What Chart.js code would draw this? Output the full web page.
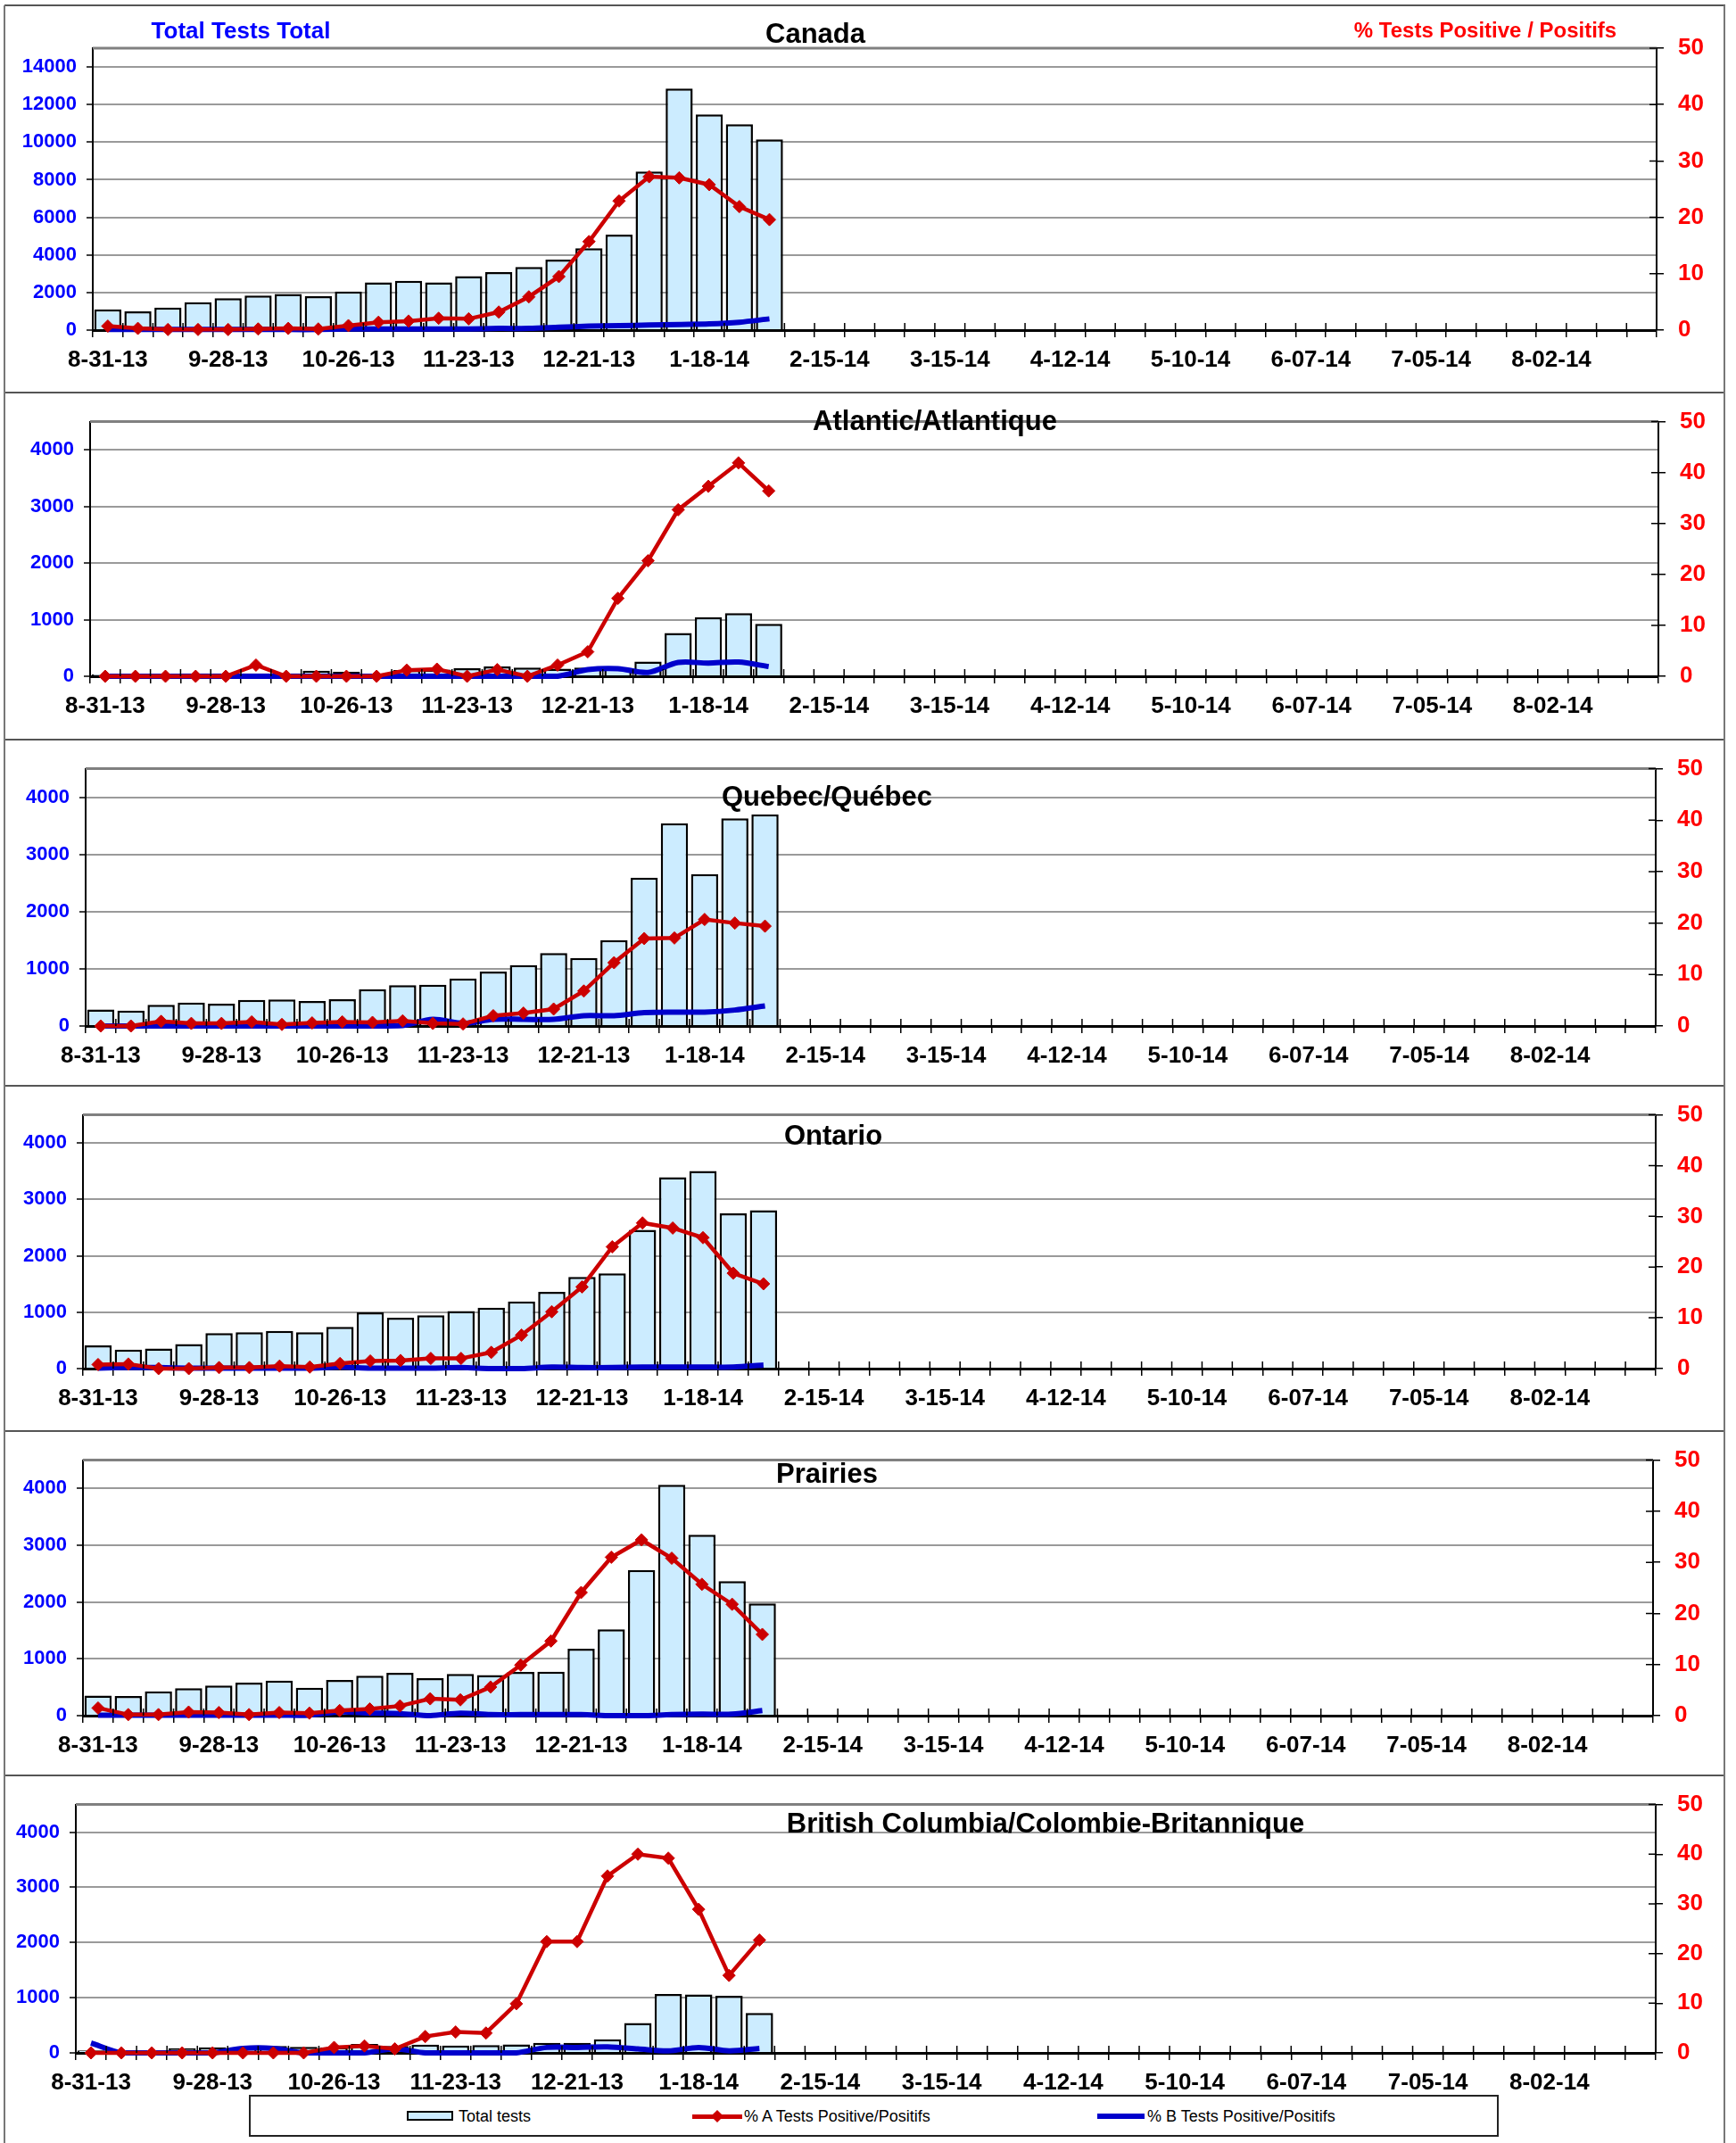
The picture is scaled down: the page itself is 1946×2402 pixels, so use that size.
<!DOCTYPE html>
<html>
<head>
<meta charset="utf-8">
<script src="https://cdn.jsdelivr.net/npm/chart.js@4.4.0/dist/chart.umd.min.js"></script>
<style>
  body { margin: 0; background: #fff; }
  #page { position: relative; width: 1946px; height: 2402px; overflow: hidden; font-family: 'Liberation Sans', Arial, sans-serif; }
  #page canvas { position: absolute; left: 0; }
  .hline { position: absolute; left: 5px; width: 1929px; height: 2px; background: #555; }
  .vline { position: absolute; top: 6px; width: 2px; height: 2396px; background: #777; }
  .leg { position: absolute; font-size: 18px; line-height: 20px; color: #000; white-space: nowrap; }
</style>
</head>
<body>
<div id="page">
  <canvas id="c0"></canvas>
  <canvas id="c1"></canvas>
  <canvas id="c2"></canvas>
  <canvas id="c3"></canvas>
  <canvas id="c4"></canvas>
  <canvas id="c5"></canvas>

  <div class="hline" style="top:5px"></div>
  <div class="hline" style="top:439px"></div>
  <div class="hline" style="top:828px"></div>
  <div class="hline" style="top:1216px"></div>
  <div class="hline" style="top:1603px"></div>
  <div class="hline" style="top:1989px"></div>
  <div class="vline" style="left:4px"></div>
  <div class="vline" style="left:1932px"></div>

  <!-- legend -->
  <div style="position:absolute;left:279px;top:2348px;width:1401px;height:47px;border:2px solid #222;box-sizing:border-box;background:#fff;"></div>
  <div style="position:absolute;left:456px;top:2366px;width:52px;height:11px;background:#CCECFF;border:2px solid #000;box-sizing:border-box;"></div>
  <div class="leg" style="left:514px;top:2362px;">Total tests</div>
  <div style="position:absolute;left:776px;top:2370px;width:56px;height:5px;background:#CC0000;"></div>
  <div style="position:absolute;left:799px;top:2367px;width:10px;height:10px;background:#CC0000;transform:rotate(45deg);"></div>
  <div class="leg" style="left:834px;top:2362px;">% A Tests Positive/Positifs</div>
  <div style="position:absolute;left:1230px;top:2369px;width:53px;height:6px;background:#0000CC;"></div>
  <div class="leg" style="left:1286px;top:2362px;">% B Tests Positive/Positifs</div>
</div>

<script>
// Weekly categories (52 weeks)
const categories = [
  '8-31-13', '9-07-13', '9-14-13', '9-21-13', '9-28-13', '10-05-13', '10-12-13', '10-19-13',
  '10-26-13', '11-02-13', '11-09-13', '11-16-13', '11-23-13', '11-30-13', '12-07-13', '12-14-13',
  '12-21-13', '12-28-13', '1-04-14', '1-11-14', '1-18-14', '1-25-14', '2-01-14', '2-08-14',
  '2-15-14', '2-22-14', '3-01-14', '3-08-14', '3-15-14', '3-22-14', '3-29-14', '4-05-14',
  '4-12-14', '4-19-14', '4-26-14', '5-03-14', '5-10-14', '5-17-14', '5-24-14', '5-31-14',
  '6-07-14', '6-14-14', '6-21-14', '6-28-14', '7-05-14', '7-12-14', '7-19-14', '7-26-14',
  '8-02-14', '8-09-14', '8-16-14', '8-23-14'
];

// Canada
const canadaTotal = [1100, 1000, 1200, 1480, 1700, 1840, 1920, 1800, 2050, 2540, 2620, 2540, 2870, 3090, 3360, 3750, 4350, 5080, 8440, 12850, 11470, 10950, 10150];
const canadaPctA = [0.7, 0.3, 0.1, 0.1, 0.1, 0.2, 0.3, 0.2, 0.8, 1.4, 1.6, 2.1, 2.0, 3.2, 5.9, 9.5, 15.7, 22.9, 27.2, 27.0, 25.8, 21.9, 19.6];
const canadaPctB = [0.1, 0.1, 0.1, 0.1, 0.1, 0.1, 0.1, 0.1, 0.2, 0.2, 0.2, 0.2, 0.2, 0.3, 0.3, 0.5, 0.7, 0.8, 0.9, 1.0, 1.1, 1.4, 2.0];

// Atlantic
const atlanticTotal = [30, 30, 30, 50, 50, 50, 50, 100, 80, 40, 110, 120, 140, 175, 155, 135, 155, 145, 260, 765, 1045, 1115, 925];
const atlanticPctA = [0, 0, 0, 0, 0, 2.2, 0, 0, 0, 0, 1.2, 1.4, 0, 1.3, 0, 2.2, 4.8, 15.3, 22.7, 32.7, 37.3, 41.9, 36.4];
const atlanticPctB = [0, 0, 0, 0, 0, 0, 0, 0, 0, 0, 0, 0, 0, 0, 0, 0, 1.3, 1.5, 0.75, 2.7, 2.6, 2.8, 1.9];

// Quebec
const quebecTotal = [290, 270, 370, 410, 390, 455, 465, 435, 470, 645, 715, 720, 830, 950, 1065, 1275, 1190, 1500, 2595, 3545, 2655, 3630, 3700];
const quebecPctA = [0, 0, 0.9, 0.5, 0.5, 0.8, 0.3, 0.6, 0.8, 0.7, 1.0, 0.5, 0.4, 2.0, 2.5, 3.3, 6.8, 12.3, 17.0, 17.1, 20.7, 20.0, 19.4];
const quebecPctB = [0, 0, 0, 0, 0, 0, 0, 0, 0, 0, 0.1, 1.3, 0.5, 1.3, 1.3, 1.3, 2.0, 2.0, 2.6, 2.7, 2.7, 3.1, 3.9];

// Ontario
const ontarioTotal = [410, 335, 355, 435, 630, 645, 670, 645, 740, 995, 900, 945, 1020, 1080, 1190, 1360, 1625, 1690, 2460, 3395, 3505, 2755, 2810];
const ontarioPctA = [0.8, 0.9, 0, 0, 0.2, 0.2, 0.5, 0.3, 1.0, 1.5, 1.6, 2.0, 2.0, 3.2, 6.6, 11.2, 16.1, 24.0, 28.7, 27.7, 25.8, 18.8, 16.7];
const ontarioPctB = [0.1, 0.2, 0.2, 0.1, 0.1, 0.1, 0.1, 0.1, 0.3, 0.1, 0.1, 0.1, 0.2, 0, 0, 0.3, 0.2, 0.2, 0.3, 0.3, 0.3, 0.3, 0.7];

// Prairies
const prairiesTotal = [355, 345, 430, 485, 530, 580, 615, 490, 630, 705, 755, 660, 735, 715, 770, 775, 1180, 1520, 2565, 4065, 3185, 2370, 1975];
const prairiesPctA = [1.5, 0.2, 0.2, 0.7, 0.6, 0.2, 0.6, 0.5, 1.0, 1.3, 1.9, 3.3, 3.1, 5.6, 9.9, 14.6, 24.1, 31.0, 34.4, 30.8, 25.7, 21.8, 15.9];
const prairiesPctB = [0.1, 0.1, 0.1, 0.1, 0.1, 0.1, 0.1, 0.1, 0.75, 0.5, 0.4, 0, 0.5, 0.2, 0.2, 0.2, 0.2, 0, 0, 0.2, 0.3, 0.3, 1.0];

// British Columbia
const bcTotal = [45, 30, 45, 85, 100, 100, 125, 110, 100, 160, 125, 150, 135, 140, 155, 180, 180, 245, 540, 1065, 1060, 1035, 725];
const bcPctA = [0, 0, 0, 0, 0, 0, 0, 0, 1.1, 1.4, 0.8, 3.3, 4.2, 4.0, 9.9, 22.4, 22.4, 35.6, 40.0, 39.2, 28.9, 15.6, 22.7];
const bcPctB = [2.0, 0, 0, 0, 0, 0.9, 0.9, 0, 0, 0, 0.8, 0, 0, 0, 0, 1.1, 1.1, 1.2, 0.8, 0.4, 1.1, 0.4, 0.9];

// Tick labels
const canadaTicks = [0, 2000, 4000, 6000, 8000, 10000, 12000, 14000];
const regionTicks = [0, 1000, 2000, 3000, 4000];
const pctTicks = [0, 10, 20, 30, 40, 50];

const PAGE_W = 1946;
const FONT = "'Liberation Sans', Arial, sans-serif";

// Panel layout (page pixels): canvas band, plot area, title position
const panels = [
  { title: 'Canada', total: canadaTotal, pctA: canadaPctA, pctB: canadaPctB, yMax: 15000, yTicks: canadaTicks,
    top: 7, bottom: 439, plot: { left: 104, top: 54, right: 1857, bottom: 370 }, titleAt: [914, 39],
    extra: [
      { text: 'Total Tests Total', x: 270, y: 36, font: 'bold 26px ' + FONT, color: '#0000FF' },
      { text: '% Tests Positive / Positifs', x: 1665, y: 35, font: 'bold 24px ' + FONT, color: '#FF0000' }
    ] },
  { title: 'Atlantic/Atlantique', total: atlanticTotal, pctA: atlanticPctA, pctB: atlanticPctB, yMax: 4500, yTicks: regionTicks,
    top: 441, bottom: 828, plot: { left: 101, top: 469, right: 1859, bottom: 758 }, titleAt: [1048, 473] },
  { title: 'Quebec/Québec', total: quebecTotal, pctA: quebecPctA, pctB: quebecPctB, yMax: 4500, yTicks: regionTicks,
    top: 830, bottom: 1216, plot: { left: 96, top: 860, right: 1856, bottom: 1150 }, titleAt: [927, 894] },
  { title: 'Ontario', total: ontarioTotal, pctA: ontarioPctA, pctB: ontarioPctB, yMax: 4500, yTicks: regionTicks,
    top: 1218, bottom: 1603, plot: { left: 93, top: 1248, right: 1856, bottom: 1534 }, titleAt: [934, 1274] },
  { title: 'Prairies', total: prairiesTotal, pctA: prairiesPctA, pctB: prairiesPctB, yMax: 4500, yTicks: regionTicks,
    top: 1605, bottom: 1989, plot: { left: 93, top: 1636, right: 1853, bottom: 1923 }, titleAt: [927, 1653] },
  { title: 'British Columbia/Colombie-Britannique', total: bcTotal, pctA: bcPctA, pctB: bcPctB, yMax: 4500, yTicks: regionTicks,
    top: 1991, bottom: 2402, plot: { left: 85, top: 2022, right: 1856, bottom: 2301 }, titleAt: [1172, 2045] }
];

// Plot frame top, inner halves of crossing ticks, titles
const decor = {
  id: 'decor',
  afterDraw(chart, args, opts) {
    const ctx = chart.ctx;
    const a = chart.chartArea;
    ctx.save();
    ctx.strokeStyle = '#808080';
    ctx.lineWidth = 3;
    ctx.beginPath();
    ctx.moveTo(a.left, a.top);
    ctx.lineTo(a.right, a.top);
    ctx.stroke();

    ctx.strokeStyle = '#000';
    ctx.lineWidth = 1.5;
    ctx.beginPath();
    const n = chart.data.labels.length;
    const step = (a.right - a.left) / n;
    for (let i = 1; i <= n; i++) {
      const x = a.left + i * step;
      ctx.moveTo(x, a.bottom);
      ctx.lineTo(x, a.bottom - 8);
    }
    const y2 = chart.scales.y2;
    y2.ticks.forEach(t => {
      const y = y2.getPixelForValue(t.value);
      ctx.moveTo(a.right, y);
      ctx.lineTo(a.right - 8, y);
    });
    ctx.stroke();

    ctx.textAlign = 'center';
    ctx.textBaseline = 'middle';
    opts.texts.forEach(t => {
      ctx.font = t.font;
      ctx.fillStyle = t.color;
      ctx.fillText(t.text, t.x, t.y);
    });
    ctx.restore();
  }
};

function makeChart(canvasId, p) {
  const canvas = document.getElementById(canvasId);
  const h = p.bottom - p.top;
  canvas.width = PAGE_W;
  canvas.height = h;
  canvas.style.top = p.top + 'px';
  canvas.style.width = PAGE_W + 'px';
  canvas.style.height = h + 'px';

  const texts = [{ text: p.title, x: p.titleAt[0], y: p.titleAt[1] - p.top, font: 'bold 31px ' + FONT, color: '#000' }];
  (p.extra || []).forEach(t => texts.push(Object.assign({}, t, { y: t.y - p.top })));

  return new Chart(canvas, {
    type: 'bar',
    data: {
      labels: categories,
      datasets: [
        {
          type: 'line',
          label: '% A Tests Positive/Positifs',
          data: p.pctA,
          yAxisID: 'y2',
          order: 0,
          borderColor: '#CC0000',
          backgroundColor: '#CC0000',
          borderWidth: 4.5,
          tension: 0,
          pointStyle: 'rectRot',
          pointRadius: 7,
          pointBorderWidth: 1,
          clip: false
        },
        {
          type: 'line',
          label: '% B Tests Positive/Positifs',
          data: p.pctB,
          yAxisID: 'y2',
          order: 1,
          borderColor: '#0000CC',
          backgroundColor: '#0000CC',
          borderWidth: 6,
          tension: 0.3,
          pointRadius: 0,
          clip: false
        },
        {
          type: 'bar',
          label: 'Total tests',
          data: p.total,
          yAxisID: 'y',
          order: 2,
          backgroundColor: '#CCECFF',
          borderColor: '#000',
          borderWidth: 2.5,
          barPercentage: 0.9,
          categoryPercentage: 1.0
        }
      ]
    },
    options: {
      responsive: false,
      animation: false,
      devicePixelRatio: 1,
      layout: { padding: { top: p.plot.top - p.top, left: 0, right: 0, bottom: 0 } },
      plugins: {
        legend: { display: false },
        title: { display: false },
        tooltip: { enabled: false },
        decor: { texts: texts }
      },
      scales: {
        x: {
          offset: true,
          grid: { display: true, offset: true, drawOnChartArea: false, drawTicks: true, tickLength: 8, color: '#000', lineWidth: 1.5 },
          border: { display: true, color: '#000', width: 3 },
          ticks: {
            autoSkip: false, maxRotation: 0, minRotation: 0, padding: 10, color: '#000',
            font: { family: FONT, size: 26, weight: 'bold' },
            callback: (v, i) => (i % 4 === 0 ? categories[i] : '')
          },
          afterFit: s => { s.height = p.bottom - p.plot.bottom; }
        },
        y: {
          position: 'left',
          min: 0,
          max: p.yMax,
          grid: { color: '#9a9a9a', lineWidth: 2, tickLength: 7, tickColor: '#000', tickWidth: 1.5 },
          border: { display: true, color: '#000', width: 2 },
          ticks: {
            padding: 11, color: '#0000FF',
            font: { family: FONT, size: 22, weight: 'bold' },
            callback: v => String(v)
          },
          afterBuildTicks: s => { s.ticks = p.yTicks.map(v => ({ value: v })); },
          afterFit: s => { s.width = p.plot.left; }
        },
        y2: {
          position: 'right',
          min: 0,
          max: 50,
          grid: { drawOnChartArea: false, tickLength: 8, color: '#000', lineWidth: 1.5 },
          border: { display: true, color: '#000', width: 2 },
          ticks: {
            padding: 16, color: '#FF0000',
            font: { family: FONT, size: 26, weight: 'bold' },
            callback: v => String(v)
          },
          afterBuildTicks: s => { s.ticks = pctTicks.map(v => ({ value: v })); },
          afterFit: s => { s.width = PAGE_W - p.plot.right; }
        }
      }
    },
    plugins: [decor]
  });
}

panels.forEach((p, i) => makeChart('c' + i, p));
</script>
</body>
</html>
